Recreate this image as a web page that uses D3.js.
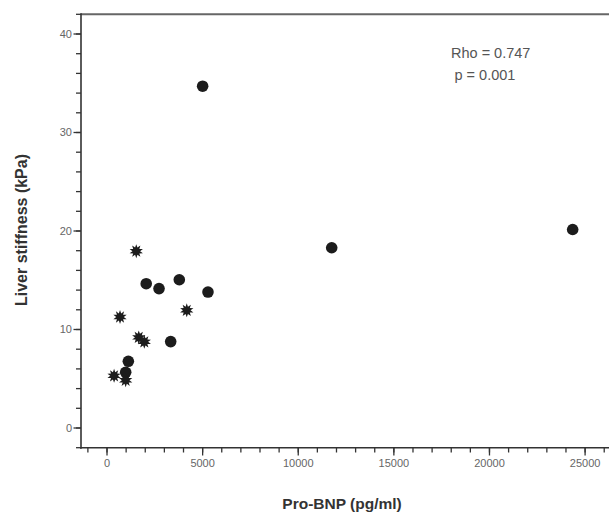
<!DOCTYPE html>
<html><head><meta charset="utf-8">
<script src="https://cdn.jsdelivr.net/npm/d3@7"></script>
<style>
html,body{margin:0;padding:0;background:#fff;}
svg{display:block;font-family:"Liberation Sans",Arial,sans-serif;}
</style></head>
<body>
<svg id="chart" width="609" height="515"></svg>
<script>
// Data: circles (group 1) and asterisks (group 2)
const circleBNP   = [5000, 11750, 24350, 2050, 2720, 3780, 5280, 3330, 1115, 976];
const circleLS    = [34.7, 18.3, 20.15, 14.65, 14.15, 15.05, 13.8, 8.77, 6.77, 5.65];
const starBNP     = [1530, 4170, 680, 1660, 1950, 976, 370];
const starLS      = [17.95, 11.95, 11.27, 9.2, 8.75, 4.85, 5.3];
const xTicks = [0, 5000, 10000, 15000, 20000, 25000];
const yTicks = [0, 10, 20, 30, 40];
const annot = ["Rho = 0.747", "p = 0.001"];

const svg = d3.select("#chart");
const x = d3.scaleLinear().domain([-1360, 26250]).range([81, 609]);
const y = d3.scaleLinear().domain([-2, 42]).range([447.7, 14.3]);

const axisColor = "#333";
const labelColor = "#666";

// top border
svg.append("line").attr("x1", 81).attr("x2", 609).attr("y1", 14.3).attr("y2", 14.3)
  .attr("stroke", "#666").attr("stroke-width", 2);

// y axis
const yMinor = d3.range(-2, 43, 2);
const gy = svg.append("g");
gy.append("line").attr("x1", 81).attr("x2", 81).attr("y1", y(42) - 1).attr("y2", y(-2) + 1)
  .attr("stroke", axisColor).attr("stroke-width", 1.6);
gy.selectAll("line.minor").data(yMinor).join("line").attr("class", "minor")
  .attr("x1", 76).attr("x2", 81).attr("y1", d => y(d)).attr("y2", d => y(d))
  .attr("stroke", axisColor).attr("stroke-width", 1.3);
gy.selectAll("line.major").data(yTicks).join("line").attr("class", "major")
  .attr("x1", 73.5).attr("x2", 81).attr("y1", d => y(d)).attr("y2", d => y(d))
  .attr("stroke", axisColor).attr("stroke-width", 1.3);
gy.selectAll("text").data(yTicks).join("text")
  .attr("x", 72).attr("y", d => y(d)).attr("dy", "0.35em").attr("text-anchor", "end")
  .attr("font-size", 11).attr("fill", labelColor).text(d => d);

// x axis
const xMinor = d3.range(-1000, 26001, 1000);
const gx = svg.append("g");
gx.append("line").attr("x1", 80).attr("x2", 609).attr("y1", 447.7).attr("y2", 447.7)
  .attr("stroke", axisColor).attr("stroke-width", 1.6);
gx.selectAll("line.minor").data(xMinor).join("line").attr("class", "minor")
  .attr("x1", d => x(d)).attr("x2", d => x(d)).attr("y1", 447.7).attr("y2", 452.5)
  .attr("stroke", axisColor).attr("stroke-width", 1.3);
gx.selectAll("line.major").data(xTicks).join("line").attr("class", "major")
  .attr("x1", d => x(d)).attr("x2", d => x(d)).attr("y1", 447.7).attr("y2", 455.5)
  .attr("stroke", axisColor).attr("stroke-width", 1.3);
gx.selectAll("text").data(xTicks).join("text")
  .attr("x", d => x(d)).attr("y", 467).attr("text-anchor", "middle")
  .attr("font-size", 11).attr("fill", labelColor).text(d => d);

// titles
svg.append("text").attr("x", 342).attr("y", 509).attr("text-anchor", "middle")
  .attr("font-size", 15.5).attr("font-weight", "bold").attr("fill", "#333").text("Pro-BNP (pg/ml)");
svg.append("text").attr("transform", "translate(26.5,230) rotate(-90)").attr("text-anchor", "middle")
  .attr("font-size", 16).attr("font-weight", "bold").attr("fill", "#333").text("Liver stiffness (kPa)");

// annotation
svg.append("text").attr("x", 451).attr("y", 58).attr("font-size", 14.5).attr("fill", "#555").text(annot[0]);
svg.append("text").attr("x", 454.5).attr("y", 80).attr("font-size", 14.5).attr("fill", "#555").text(annot[1]);

// points
const ptColor = "#1c1c1c";
const circles = circleBNP.map((v, i) => ({x: v, y: circleLS[i]}));
const stars = starBNP.map((v, i) => ({x: v, y: starLS[i]}));

svg.append("g").selectAll("circle").data(circles).join("circle")
  .attr("cx", d => x(d.x)).attr("cy", d => y(d.y)).attr("r", 5.8).attr("fill", ptColor);

// starburst shape
const nSpikes = 10;
const starPts = d3.range(nSpikes * 2).map(i => [i * Math.PI / nSpikes, i % 2 === 0 ? 7 : 3.8]);
const starPath = d3.lineRadial().curve(d3.curveLinearClosed)(starPts);
svg.append("g").selectAll("path").data(stars).join("path")
  .attr("transform", d => `translate(${x(d.x)},${y(d.y)})`)
  .attr("d", starPath).attr("fill", ptColor);
</script>
</body></html>
